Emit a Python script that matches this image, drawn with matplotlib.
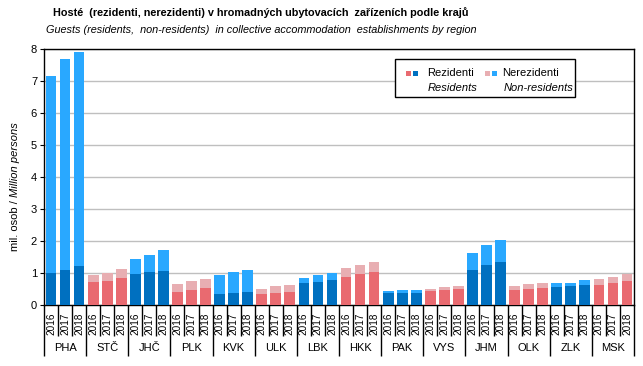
import matplotlib
matplotlib.use("Agg")
import matplotlib.pyplot as plt
from matplotlib.patches import Rectangle
from matplotlib import font_manager
import numpy as np

plt.rcParams['font.family'] = ['Liberation Sans', 'DejaVu Sans']

regions = ["PHA", "STČ", "JHČ", "PLK", "KVK", "ULK", "LBK",
           "HKK", "PAK", "VYS", "JHM", "OLK", "ZLK", "MSK"]
years = ["2016", "2017", "2018"]

# residents (mil.), per region 2016-2018
residents = [
    1.00, 1.10, 1.23,   # PHA
    0.74, 0.77, 0.86,   # STČ
    0.98, 1.05, 1.07,   # JHČ
    0.42, 0.48, 0.54,   # PLK
    0.35, 0.38, 0.42,   # KVK
    0.35, 0.38, 0.42,   # ULK
    0.70, 0.73, 0.79,   # LBK
    0.88, 0.98, 1.04,   # HKK
    0.38, 0.38, 0.38,   # PAK
    0.45, 0.48, 0.51,   # VYS
    1.10, 1.26, 1.35,   # JHM
    0.48, 0.51, 0.54,   # OLK
    0.57, 0.60, 0.63,   # ZLK
    0.63, 0.70, 0.76,   # MSK
]
# total guests (mil.)
totals = [
    7.15, 7.67, 7.90,
    0.94, 1.00, 1.13,
    1.44, 1.57, 1.73,
    0.67, 0.76, 0.82,
    0.95, 1.04, 1.10,
    0.51, 0.60, 0.63,
    0.85, 0.95, 1.01,
    1.17, 1.26, 1.35,
    0.45, 0.48, 0.48,
    0.51, 0.57, 0.60,
    1.63, 1.88, 2.04,
    0.60, 0.67, 0.70,
    0.70, 0.70, 0.79,
    0.82, 0.88, 0.98,
]
non_residents = [t - r for t, r in zip(totals, residents)]

blue_dark, blue_light = "#0070C0", "#29A8FF"
red_dark, red_light = "#E96A70", "#E8AEB2"

# narrow face for the titles if present
names = {f.name for f in font_manager.fontManager.ttflist}
title_font = ['Liberation Sans Narrow'] if 'Liberation Sans Narrow' in names else ['Liberation Sans']
title_size = 9.2 if 'Liberation Sans Narrow' in names else 7.8

W, H = 643, 366
fig = plt.figure(figsize=(W / 100, H / 100), dpi=100)
ax = fig.add_axes([44 / W, 1 - 305.3 / H, (634 - 44) / W, (305.3 - 48.7) / H])

x = np.arange(len(residents))
res_colors, non_colors = [], []
for g in range(len(regions)):
    for _ in years:
        if g % 2 == 0:
            res_colors.append(blue_dark); non_colors.append(blue_light)
        else:
            res_colors.append(red_dark); non_colors.append(red_light)

ax.bar(x, residents, width=0.76, color=res_colors, zorder=3)
ax.bar(x, non_residents, width=0.76, bottom=residents, color=non_colors, zorder=3)

ax.set_xlim(-0.5, len(x) - 0.5)
ax.set_ylim(0, 8)
ax.set_yticks(range(0, 9))
ax.yaxis.grid(True, color="#BFBFBF", linewidth=1.0, zorder=0)
ax.tick_params(axis='y', labelsize=8, length=3, width=0.8, pad=2)
for s in ax.spines.values():
    s.set_linewidth(1.0)

# separators below the axis
inner = [i + 0.5 for i in range(len(x) - 1) if (i + 1) % 3 != 0]
outer = [i - 0.5 for i in range(0, len(x) + 1, 3)]
ax.set_xticks(outer)
ax.set_xticklabels([])
ax.set_xticks(inner, minor=True)
ax.tick_params(axis='x', which='major', length=37, width=1.0, direction='out')
ax.tick_params(axis='x', which='minor', length=22, width=1.0, direction='out')

tr = ax.get_xaxis_transform()
for i in x:
    ax.text(i, -0.03, years[i % 3], transform=tr, rotation=90,
            ha='center', va='top', fontsize=7.2)
for g, name in enumerate(regions):
    ax.text(3 * g + 1, -0.168, name, transform=tr, ha='center', va='center',
            fontsize=8)

# titles
fig.text(261 / W, 1 - 13 / H,
         "Hosté  (rezidenti, nerezidenti) v hromadných ubytovacích  zařízeních podle krajů",
         ha='center', va='center', fontsize=title_size, fontweight='bold',
         family=title_font)
fig.text(261 / W, 1 - 30 / H,
         "Guests (residents,  non-residents)  in collective accommodation  establishments by region",
         ha='center', va='center', fontsize=title_size, style='italic',
         family=title_font)

# y label with mixed style
fig.canvas.draw()
renderer = fig.canvas.get_renderer()
t1 = fig.text(15 / W, 1 - 251 / H, "mil. osob / ", rotation=90,
              ha='center', va='bottom', fontsize=8)
bb = t1.get_window_extent(renderer)
fig.text(15 / W, bb.y1 / H, "Million persons", rotation=90,
         ha='center', va='bottom', fontsize=8, style='italic')

# legend box
lx0, ly0, lx1, ly1 = 395, 59, 575, 97
fig.patches.append(Rectangle((lx0 / W, 1 - ly1 / H), (lx1 - lx0) / W, (ly1 - ly0) / H,
                             transform=fig.transFigure, facecolor='white',
                             edgecolor='black', linewidth=1.0, zorder=5))
sq = 5
for cx, col in [(406, red_dark), (413, blue_dark), (485, red_light), (492, blue_light)]:
    fig.patches.append(Rectangle((cx / W, 1 - (73 + sq / 2) / H), sq / W, sq / H,
                                 transform=fig.transFigure, facecolor=col,
                                 edgecolor='none', zorder=6))
fig.text(427 / W, 1 - 73 / H, "Rezidenti", fontsize=8, va='center', zorder=7)
fig.text(428 / W, 1 - 88 / H, "Residents", fontsize=8, va='center', style='italic', zorder=7)
fig.text(502 / W, 1 - 73 / H, "Nerezidenti", fontsize=8, va='center', zorder=7)
fig.text(504 / W, 1 - 88 / H, "Non-residents", fontsize=8, va='center', style='italic', zorder=7)

fig.savefig("out.png", dpi=100)
